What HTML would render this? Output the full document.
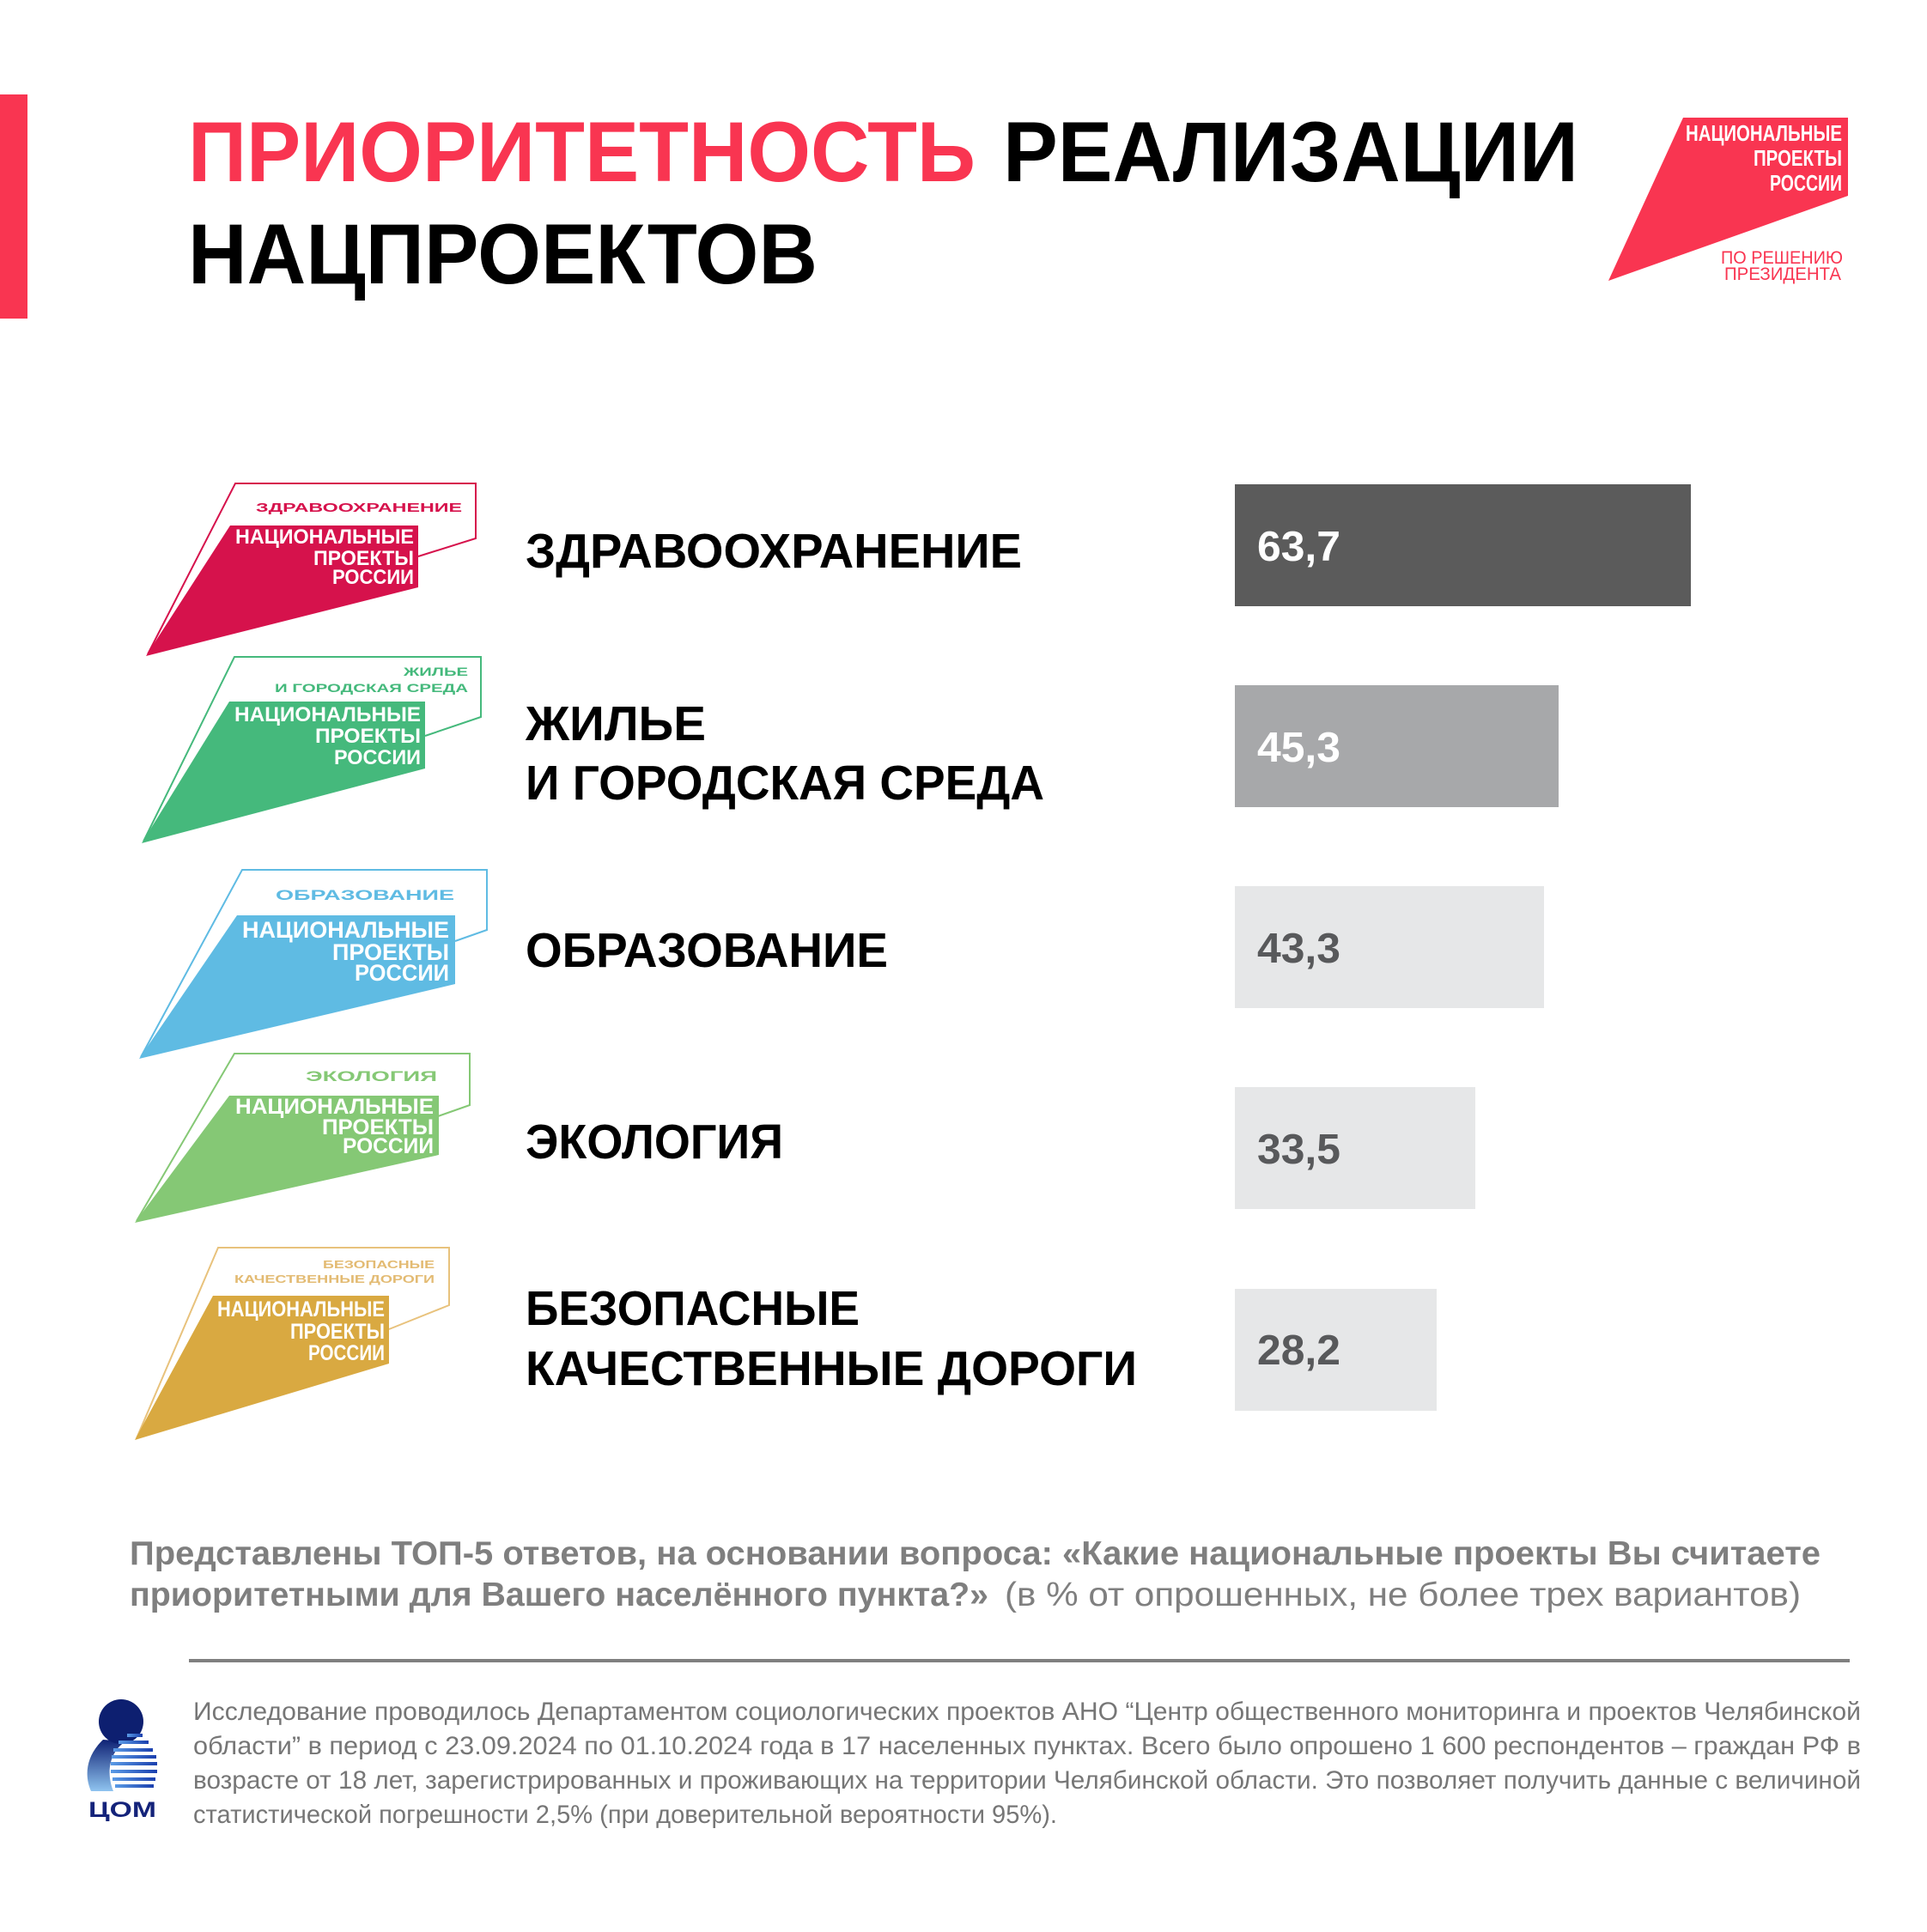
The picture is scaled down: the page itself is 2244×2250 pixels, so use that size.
<!DOCTYPE html>
<html><head><meta charset="utf-8"><style>
html,body{margin:0;padding:0;background:#fff;}
svg{display:block;}
text{font-family:"Liberation Sans","DejaVu Sans",sans-serif;}
</style></head><body>
<svg width="2244" height="2250" viewBox="0 0 2244 2250" xmlns="http://www.w3.org/2000/svg">
<defs>
<linearGradient id="bodyg" x1="0" y1="0" x2="0" y2="1">
<stop offset="0" stop-color="#0f2275"/><stop offset="1" stop-color="#8fc4f0"/></linearGradient>
<linearGradient id="stripeg" x1="0" y1="0" x2="1" y2="0">
<stop offset="0" stop-color="#5a9be6"/><stop offset="1" stop-color="#1a3fae"/></linearGradient>
</defs>
<rect width="2244" height="2250" fill="#fff"/>
<!-- left red bar -->
<rect x="0" y="110" width="32" height="261" fill="#f93551"/>
<!-- title -->
<g font-weight="bold" font-size="99">
<text x="219" y="211" fill="#f93551" textLength="917" lengthAdjust="spacingAndGlyphs">ПРИОРИТЕТНОСТЬ</text>
<text x="1168" y="211" fill="#000" textLength="670" lengthAdjust="spacingAndGlyphs">РЕАЛИЗАЦИИ</text>
<text x="219" y="330" fill="#000" textLength="733" lengthAdjust="spacingAndGlyphs">НАЦПРОЕКТОВ</text>
</g>
<!-- top right logo -->
<polygon points="1960,137 2152,137 2152,228 1873,327" fill="#f93551"/>
<g font-weight="bold" fill="#fff" font-size="26">
<text x="1963" y="164" textLength="182" lengthAdjust="spacingAndGlyphs">НАЦИОНАЛЬНЫЕ</text>
<text x="2042" y="193" textLength="103" lengthAdjust="spacingAndGlyphs">ПРОЕКТЫ</text>
<text x="2061" y="222" textLength="84" lengthAdjust="spacingAndGlyphs">РОССИИ</text>
</g>
<g fill="#f93551" font-size="21">
<text x="2004" y="307" textLength="142" lengthAdjust="spacingAndGlyphs">ПО РЕШЕНИЮ</text>
<text x="2008" y="326" textLength="136" lengthAdjust="spacingAndGlyphs">ПРЕЗИДЕНТА</text>
</g>

<!-- logo 1 health -->
<g>
<polyline points="172,762 274,563 554,563 554,627 487,648" fill="none" stroke="#d6124c" stroke-width="2"/>
<polygon points="268,612 487,612 487,684 170,764" fill="#d6124c"/>
<text x="298" y="596" fill="#d6124c" font-weight="bold" font-size="15" textLength="240" lengthAdjust="spacingAndGlyphs">ЗДРАВООХРАНЕНИЕ</text>
<g fill="#fff" font-weight="bold" font-size="24">
<text x="274" y="633" textLength="208" lengthAdjust="spacingAndGlyphs">НАЦИОНАЛЬНЫЕ</text>
<text x="365" y="658" textLength="117" lengthAdjust="spacingAndGlyphs">ПРОЕКТЫ</text>
<text x="387" y="680" textLength="95" lengthAdjust="spacingAndGlyphs">РОССИИ</text>
</g></g>

<!-- logo 2 housing -->
<g>
<polyline points="167,980 273,765 560,765 560,835 495,857" fill="none" stroke="#45b97c" stroke-width="2"/>
<polygon points="267,817 495,817 495,895 165,982" fill="#45b97c"/>
<g fill="#45b97c" font-weight="bold" font-size="14">
<text x="470" y="787" textLength="75" lengthAdjust="spacingAndGlyphs">ЖИЛЬЕ</text>
<text x="320" y="806" textLength="225" lengthAdjust="spacingAndGlyphs">И ГОРОДСКАЯ СРЕДА</text>
</g>
<g fill="#fff" font-weight="bold" font-size="24">
<text x="273" y="840" textLength="217" lengthAdjust="spacingAndGlyphs">НАЦИОНАЛЬНЫЕ</text>
<text x="367" y="865" textLength="123" lengthAdjust="spacingAndGlyphs">ПРОЕКТЫ</text>
<text x="389" y="890" textLength="101" lengthAdjust="spacingAndGlyphs">РОССИИ</text>
</g></g>

<!-- logo 3 education -->
<g>
<polyline points="164,1231 282,1013 567,1013 567,1083 530,1096" fill="none" stroke="#5fbbe3" stroke-width="2"/>
<polygon points="276,1066 530,1066 530,1146 162,1233" fill="#5fbbe3"/>
<text x="321" y="1048" fill="#5fbbe3" font-weight="bold" font-size="17" textLength="208" lengthAdjust="spacingAndGlyphs">ОБРАЗОВАНИЕ</text>
<g fill="#fff" font-weight="bold" font-size="27">
<text x="282" y="1092" textLength="241" lengthAdjust="spacingAndGlyphs">НАЦИОНАЛЬНЫЕ</text>
<text x="387" y="1118" textLength="136" lengthAdjust="spacingAndGlyphs">ПРОЕКТЫ</text>
<text x="413" y="1142" textLength="110" lengthAdjust="spacingAndGlyphs">РОССИИ</text>
</g></g>

<!-- logo 4 ecology -->
<g>
<polyline points="159,1422 273,1227 547,1227 547,1287 510,1300" fill="none" stroke="#85c875" stroke-width="2"/>
<polygon points="267,1276 511,1276 511,1345 157,1424" fill="#85c875"/>
<text x="356" y="1259" fill="#85c875" font-weight="bold" font-size="17" textLength="153" lengthAdjust="spacingAndGlyphs">ЭКОЛОГИЯ</text>
<g fill="#fff" font-weight="bold" font-size="25">
<text x="274" y="1297" textLength="231" lengthAdjust="spacingAndGlyphs">НАЦИОНАЛЬНЫЕ</text>
<text x="375" y="1321" textLength="130" lengthAdjust="spacingAndGlyphs">ПРОЕКТЫ</text>
<text x="399" y="1343" textLength="106" lengthAdjust="spacingAndGlyphs">РОССИИ</text>
</g></g>

<!-- logo 5 roads -->
<g>
<polyline points="159,1675 254,1453 523,1453 523,1520 453,1548" fill="none" stroke="#e8c27c" stroke-width="2"/>
<polygon points="248,1509 453,1509 453,1588 157,1677" fill="#d9a941"/>
<g fill="#e3bb73" font-weight="bold" font-size="13">
<text x="376" y="1477" textLength="130" lengthAdjust="spacingAndGlyphs">БЕЗОПАСНЫЕ</text>
<text x="273" y="1494" textLength="233" lengthAdjust="spacingAndGlyphs">КАЧЕСТВЕННЫЕ ДОРОГИ</text>
</g>
<g fill="#fff" font-weight="bold" font-size="25">
<text x="253" y="1533" textLength="195" lengthAdjust="spacingAndGlyphs">НАЦИОНАЛЬНЫЕ</text>
<text x="338" y="1559" textLength="110" lengthAdjust="spacingAndGlyphs">ПРОЕКТЫ</text>
<text x="359" y="1584" textLength="89" lengthAdjust="spacingAndGlyphs">РОССИИ</text>
</g></g>

<!-- labels -->
<g font-weight="bold" font-size="57" fill="#000">
<text x="612" y="661" textLength="578" lengthAdjust="spacingAndGlyphs">ЗДРАВООХРАНЕНИЕ</text>
<text x="612" y="862" textLength="210" lengthAdjust="spacingAndGlyphs">ЖИЛЬЕ</text>
<text x="612" y="931" textLength="604" lengthAdjust="spacingAndGlyphs">И ГОРОДСКАЯ СРЕДА</text>
<text x="612" y="1126" textLength="422" lengthAdjust="spacingAndGlyphs">ОБРАЗОВАНИЕ</text>
<text x="612" y="1349" textLength="300" lengthAdjust="spacingAndGlyphs">ЭКОЛОГИЯ</text>
<text x="612" y="1543" textLength="389" lengthAdjust="spacingAndGlyphs">БЕЗОПАСНЫЕ</text>
<text x="612" y="1613" textLength="712" lengthAdjust="spacingAndGlyphs">КАЧЕСТВЕННЫЕ ДОРОГИ</text>
</g>

<!-- bars -->
<rect x="1438" y="564" width="531" height="142" fill="#5b5b5b"/>
<rect x="1438" y="798" width="377" height="142" fill="#a7a8aa"/>
<rect x="1438" y="1032" width="360" height="142" fill="#e6e7e8"/>
<rect x="1438" y="1266" width="280" height="142" fill="#e6e7e8"/>
<rect x="1438" y="1501" width="235" height="142" fill="#e6e7e8"/>
<g font-weight="bold" font-size="49">
<text x="1464" y="653" fill="#fff" textLength="97" lengthAdjust="spacingAndGlyphs">63,7</text>
<text x="1464" y="887" fill="#fff" textLength="97" lengthAdjust="spacingAndGlyphs">45,3</text>
<text x="1464" y="1121" fill="#58595b" textLength="97" lengthAdjust="spacingAndGlyphs">43,3</text>
<text x="1464" y="1355" fill="#58595b" textLength="97" lengthAdjust="spacingAndGlyphs">33,5</text>
<text x="1464" y="1589" fill="#58595b" textLength="97" lengthAdjust="spacingAndGlyphs">28,2</text>
</g>

<!-- question -->
<g fill="#7f7f7f" font-size="39">
<text x="151" y="1822" font-weight="bold" textLength="1969" lengthAdjust="spacingAndGlyphs">Представлены ТОП-5 ответов, на основании вопроса: «Какие национальные проекты Вы считаете</text>
<text x="151" y="1870" font-weight="bold" textLength="1000" lengthAdjust="spacingAndGlyphs">приоритетными для Вашего населённого пункта?»</text>
<text x="1170" y="1870" textLength="927" lengthAdjust="spacingAndGlyphs">(в  % от опрошенных, не более трех вариантов)</text>
</g>
<rect x="220" y="1932" width="1934" height="4" fill="#808080"/>

<!-- ЦОМ logo -->
<g>
<path d="M120 2026 C 100 2045, 98 2068, 106 2086 L 132 2086 C 124 2066, 126 2042, 146 2028 Z" fill="url(#bodyg)"/>
<circle cx="141" cy="2005" r="26" fill="#0d1f70"/>
<g fill="url(#stripeg)">
<rect x="148" y="2019" width="18" height="4"/>
<rect x="138" y="2027" width="35" height="4"/>
<rect x="132" y="2036" width="46" height="4"/>
<rect x="130" y="2044" width="52" height="4"/>
<rect x="129" y="2052" width="54" height="4"/>
<rect x="129" y="2061" width="54" height="4"/>
<rect x="131" y="2070" width="50" height="4"/>
<rect x="134" y="2078" width="45" height="4"/>
</g>
<text x="103" y="2116" fill="#14237a" font-weight="bold" font-size="25" textLength="79" lengthAdjust="spacingAndGlyphs">ЦОМ</text>
</g>

<!-- footnote -->
<g fill="#767676" font-size="30">
<text x="225" y="2003" textLength="1942" lengthAdjust="spacingAndGlyphs">Исследование проводилось Департаментом социологических проектов АНО “Центр общественного мониторинга и проектов Челябинской</text>
<text x="225" y="2043" textLength="1942" lengthAdjust="spacingAndGlyphs">области” в период с 23.09.2024 по 01.10.2024 года в 17 населенных пунктах. Всего было опрошено 1 600 респондентов – граждан РФ в</text>
<text x="225" y="2083" textLength="1942" lengthAdjust="spacingAndGlyphs">возрасте от 18 лет, зарегистрированных и проживающих на территории Челябинской области. Это позволяет получить данные с величиной</text>
<text x="225" y="2123" textLength="1006" lengthAdjust="spacingAndGlyphs">статистической погрешности 2,5% (при доверительной вероятности 95%).</text>
</g>
</svg>
</body></html>
